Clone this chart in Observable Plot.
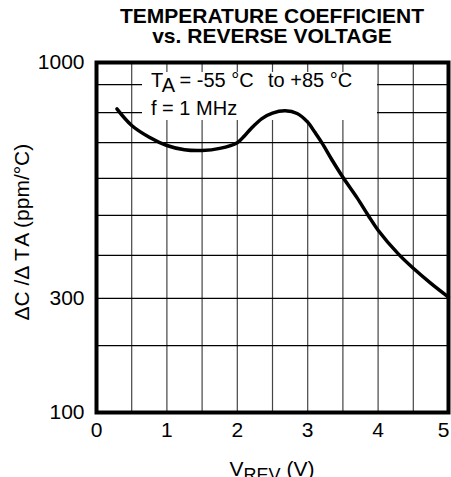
<!DOCTYPE html>
<html><head><meta charset="utf-8">
<script src="https://cdn.jsdelivr.net/npm/d3@7"></script>
<script src="https://cdn.jsdelivr.net/npm/@observablehq/plot@0.6"></script>
<style>
body{margin:0;background:#fff;font-family:Arial,"Liberation Sans",sans-serif;}
#title{width:451px;height:50px;box-sizing:border-box;padding:6px 3px 0 96px;text-align:center;font-weight:bold;font-size:21px;color:#000;}
#title div{height:20px;line-height:20px;white-space:nowrap;}
#chart svg{overflow:visible;display:block;}
</style></head><body>
<div id="title"><div>TEMPERATURE COEFFICIENT</div><div>vs. REVERSE VOLTAGE</div></div>
<div id="chart"></div>
<script>
// Curve: reverse voltage (V) vs temperature coefficient (ppm/°C)
const vrev   = [0.29, 0.5, 0.75, 1.0, 1.25, 1.5, 1.75, 2.0, 2.1, 2.2, 2.35, 2.5, 2.68, 2.85, 3.0, 3.1, 3.2, 3.35, 3.5, 3.7, 3.86, 4.0, 4.29, 4.5, 4.75, 5.0];
const tempco = [813, 757, 718, 692, 680, 678, 684, 700, 722, 748, 780, 798, 806, 797, 768, 735, 700, 650, 603, 548, 500, 463, 403, 370, 335, 303];

const xTicks = [0, 1, 2, 3, 4];
const xLastTick = [5];
const xGrid = [0, 0.5, 1, 1.5, 2, 2.5, 3, 3.5, 4, 4.5, 5];
const yGrid = [100, 200, 300, 400, 500, 600, 700, 800, 900, 1000];
const yTicks = [100, 300, 1000];
// Relative height of each grid line in the frame as printed on the original chart (non-uniform scale)
const yGridFrac = [0, 0.191, 0.326, 0.449, 0.563, 0.669, 0.771, 0.857, 0.937, 1];

const W = 451, H = 427;
const mL = 96, mR = 3, mT = 12, mB = 65;
const plotH = H - mT - mB;
const FONT = "Arial, 'Liberation Sans', sans-serif";
const FS = 21;

const data = vrev.map((v, i) => ({v, c: tempco[i]}));

const chart = Plot.plot({
  width: W, height: H,
  marginLeft: mL, marginRight: mR, marginTop: mT, marginBottom: mB,
  style: {fontFamily: FONT, fontSize: FS + "px", color: "#000", background: "#fff"},
  x: {domain: [0, 5]},
  y: {type: "linear", domain: yGrid, range: yGridFrac.map(f => mT + (1 - f) * plotH)},
  marks: [
    Plot.ruleX(xGrid, {stroke: "#444", strokeWidth: 1.2}),
    Plot.ruleY(yGrid, {stroke: "#000", strokeWidth: 1.2}),
    Plot.line(data, {x: "v", y: "c", curve: "catmull-rom", stroke: "#000", strokeWidth: 3.5}),
    Plot.frame({stroke: "#000", strokeWidth: 4}),
    Plot.axisX(xTicks, {tickSize: 0, tickPadding: 10, fontSize: FS, label: null, tickFormat: d3.format("d")}),
    Plot.axisX(xLastTick, {tickSize: 0, tickPadding: 10, fontSize: FS, label: null, dx: -5, tickFormat: d3.format("d")}),
    Plot.axisY(yTicks, {tickSize: 0, tickPadding: 12, fontSize: FS, label: null, tickFormat: d3.format("d")})
  ]
});
document.getElementById("chart").appendChild(chart);

const svg = d3.select(chart);

// Condition note box, placed under the curve but over the grid
const lineG = chart.querySelector(":scope > g[aria-label='line']");
const noteNode = document.createElementNS("http://www.w3.org/2000/svg", "g");
if (lineG) chart.insertBefore(noteNode, lineG); else chart.appendChild(noteNode);
const note = d3.select(noteNode)
  .attr("font-family", FONT).attr("font-size", 20).attr("fill", "#000").attr("text-anchor", "start");
note.append("rect").attr("x", mL + 46).attr("y", mT + 10).attr("width", 235).attr("height", 48).attr("fill", "#fff");
const t1 = note.append("text").attr("x", mL + 55).attr("y", mT + 25);
t1.append("tspan").text("T");
t1.append("tspan").attr("dy", 5).text("A");
t1.append("tspan").attr("dy", -5).text(" = -55 °C");
t1.append("tspan").attr("x", mL + 172).text("to +85 °C");
note.append("text").attr("x", mL + 55).attr("y", mT + 53).text("f = 1 MHz");

const yl = svg.append("text")
  .attr("transform", `translate(29,${mT + plotH * 0.486}) rotate(-90)`)
  .attr("text-anchor", "middle").attr("font-family", FONT).attr("font-size", FS).attr("fill", "#000");
yl.append("tspan").text("ΔC /Δ T");
yl.append("tspan").attr("dx", 3).text("A");
yl.append("tspan").text(" (ppm/°C)");

const xl = svg.append("text")
  .attr("x", mL + (W - mL - mR) / 2).attr("y", H - 1)
  .attr("text-anchor", "middle").attr("font-family", FONT).attr("font-size", 21).attr("fill", "#000");
xl.append("tspan").text("V");
xl.append("tspan").attr("dy", 5).attr("font-size", 18).text("REV");
xl.append("tspan").attr("dy", -5).text(" (V)");
</script>
</body></html>
